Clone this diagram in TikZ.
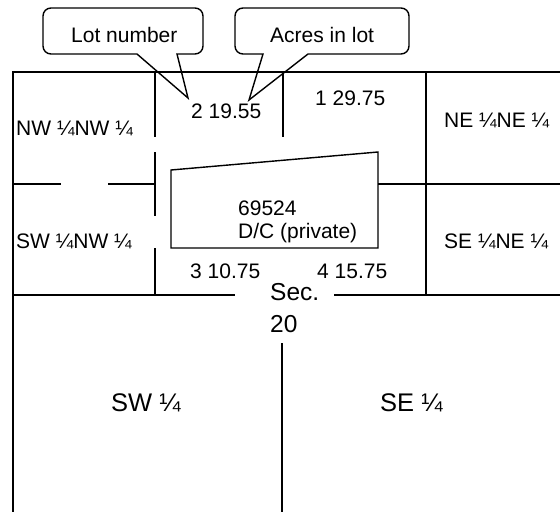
\documentclass[tikz,border=0pt]{standalone}
\usepackage{fontspec}
\setmainfont{Liberation Sans}
\begin{document}
\begin{tikzpicture}[x=1pt,y=-1pt,
  grid/.style={line width=2pt},
  thin/.style={line width=1.4pt, line join=miter},
  lbl/.style={anchor=base west, inner sep=0pt, font=\fontsize{21}{24}\selectfont},
  sec/.style={anchor=base west, inner sep=0pt, font=\fontsize{24.5}{28}\selectfont},
  qtr/.style={anchor=base west, inner sep=0pt, font=\fontsize{25.5}{30}\selectfont}]
\useasboundingbox (0,0) rectangle (560,512);
% coordinates
\coordinate (tl) at (13,72);
\coordinate (tr) at (560,72);
\coordinate (bl) at (13,512);
% grid
\draw[grid] (tr) -- (tl) -- (bl);
\draw[grid] (155,72) -- (155,137);
\draw[grid] (155,152) -- (155,216);
\draw[grid] (155,248) -- (155,295);
\draw[grid] (283,72) -- (283,137);
\draw[grid] (426,72) -- (426,295);
\draw[grid] (282,343) -- (282,512);
\draw[grid] (13,184) -- (61,184);
\draw[grid] (108,184) -- (155,184);
\draw[grid] (378,184) -- (560,184);
\draw[grid] (13,295) -- (235,295);
\draw[grid] (334,295) -- (560,295);
% parcel
\draw[thin] (171,170) -- (378,152) -- (378,248) -- (171,248) -- cycle;
% callouts
\coordinate (lottip) at (188,98);
\coordinate (acrtip) at (249,100);
\draw[thin] (137,54) -- (lottip) -- (177,54) -- (190,54) [rounded corners=8pt] -- (203,54) -- (203,8) -- (43,8) -- (43,54) -- (90,54) [sharp corners] -- cycle;
\draw[thin] (263,54) -- (acrtip) -- (308,54) -- (350,54) [rounded corners=8pt] -- (409,54) -- (409,8) -- (235,8) -- (235,54) -- (250,54) [sharp corners] -- cycle;
% texts
\node[lbl] (lotn) at (71,42) {Lot number};
\node[lbl] (acres) at (270,42) {Acres in lot};
\node[lbl] (l2) at (191,118) {2 19.55};
\node[lbl] (l1) at (315,105) {1 29.75};
\node[lbl] (nwnw) at (16,135) {NW ¼NW ¼};
\node[lbl] (nene) at (444,127) {NE ¼NE ¼};
\node[lbl] (num) at (238,215) {69524};
\node[lbl] (dc) at (238,238) {D/C (private)};
\node[lbl] (swnw) at (16,248) {SW ¼NW ¼};
\node[lbl] (sene) at (444,248) {SE ¼NE ¼};
\node[lbl] (l3) at (190,278) {3 10.75};
\node[lbl] (l4) at (317,278) {4 15.75};
\node[sec] (secn) at (270,300) {Sec.};
\node[sec] (secnum) at (270,332) {20};
\node[qtr] (sw) at (111,411) {SW ¼};
\node[qtr] (se) at (380,411) {SE ¼};
\end{tikzpicture}
\end{document}
